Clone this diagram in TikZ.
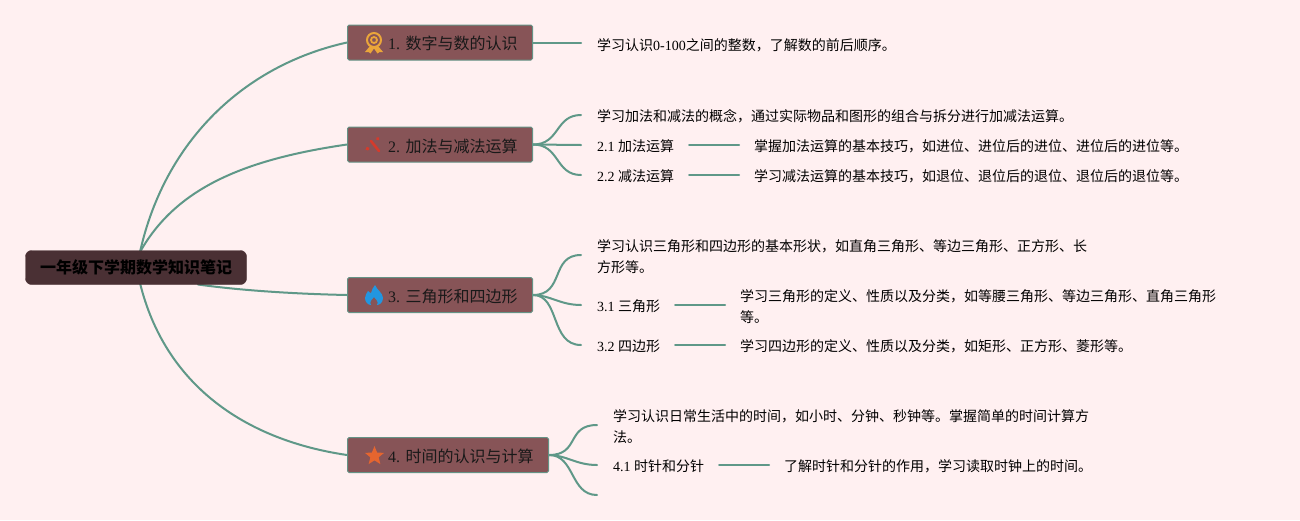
\documentclass[tikz,border=0pt]{standalone}
\usepackage{fontspec}
\setmainfont{Noto Sans CJK SC}
\newfontfamily\lat{Liberation Serif}
\newcommand{\LL}[1]{{\lat #1}}
\definecolor{bgc}{HTML}{FFF0F1}
\definecolor{edgec}{HTML}{5F9888}
\definecolor{rootc}{HTML}{4A3034}
\definecolor{mainc}{HTML}{875457}
\definecolor{medalc}{HTML}{EBA63A}
\definecolor{toolc}{HTML}{D43B2C}
\definecolor{flamec}{HTML}{2296E0}
\definecolor{starc}{HTML}{E5652F}
\usetikzlibrary{shapes.geometric}
\tikzset{
  x=1pt,y=-1pt,
  link/.style={draw=edgec,line width=2pt,line cap=round},
  rootbox/.style={draw=rootc,fill=rootc,rounded corners=6pt,minimum width=221pt,minimum height=34pt,inner sep=0pt,font=\fontsize{16}{20}\selectfont\bfseries,text=black},
  mainbox/.style={draw=edgec!80!gray,fill=mainc,rounded corners=1.5pt,line width=1pt,minimum height=35pt,inner sep=0pt,anchor=west},
  mainlabel/.style={font=\fontsize{16}{20}\selectfont,text=black!90,anchor=west,inner sep=0pt},
  body/.style={font=\fontsize{14}{21}\selectfont,text=black,anchor=west,inner sep=0pt,align=left},
}
\begin{document}
\begin{tikzpicture}
\useasboundingbox (0,0) rectangle (1300,520);
\fill[bgc] (0,0) rectangle (1300,520);
% root links are drawn first, so that the boxes cover their ends
\coordinate (r1) at (140,252);
\coordinate (r3) at (198,284.5);
\coordinate (r4) at (140,283);
\coordinate (p1) at (347,42.5);
\coordinate (p2) at (347,144.5);
\coordinate (p3) at (347,295);
\coordinate (p4) at (347,455);
\draw[link] (r1) .. controls (165,140) and (245,65) .. (p1);
\draw[link] (r1) .. controls (175,190) and (240,160) .. (p2);
\draw[link] (r3) .. controls (245,291) and (300,294) .. (p3);
\draw[link] (r4) .. controls (165,385) and (245,440) .. (p4);
% nodes
\node[rootbox] (root) at (136,267.5) {一年级下学期数学知识笔记};
\node[mainbox,minimum width=185pt] (m1) at (347,42.5) {};
\node[mainbox,minimum width=185pt] (m2) at (347,144.5) {};
\node[mainbox,minimum width=185pt] (m3) at (347,295) {};
\node[mainbox,minimum width=201pt] (m4) at (347,455) {};
\node[mainlabel] (l1) at (388,43) {\LL{1. }数字与数的认识};
\node[mainlabel] (l2) at (388,146) {\LL{2. }加法与减法运算};
\node[mainlabel] (l3) at (388,296) {\LL{3. }三角形和四边形};
\node[mainlabel] (l4) at (388,456) {\LL{4. }时间的认识与计算};
% texts
\node[body] (t1) at (597,45) {学习认识\LL{0-100}之间的整数，了解数的前后顺序。};
\node[body] (t2) at (597,116.5) {学习加法和减法的概念，通过实际物品和图形的组合与拆分进行加减法运算。};
\node[body] (t21) at (597,146.5) {\LL{2.1 }加法运算};
\node[body] (d21) at (754,146.5) {掌握加法运算的基本技巧，如进位、进位后的进位、进位后的进位等。};
\node[body] (t22) at (597,176.5) {\LL{2.2 }减法运算};
\node[body] (d22) at (754,176.5) {学习减法运算的基本技巧，如退位、退位后的退位、退位后的退位等。};
\node[body] (t3) at (597,256.5) {学习认识三角形和四边形的基本形状，如直角三角形、等边三角形、正方形、长\\方形等。};
\node[body] (t31) at (597,306.5) {\LL{3.1 }三角形};
\node[body] (d31) at (740,306.5) {学习三角形的定义、性质以及分类，如等腰三角形、等边三角形、直角三角形\\等。};
\node[body] (t32) at (597,346.5) {\LL{3.2 }四边形};
\node[body] (d32) at (740,346.5) {学习四边形的定义、性质以及分类，如矩形、正方形、菱形等。};
\node[body] (t4) at (613,426.5) {学习认识日常生活中的时间，如小时、分钟、秒钟等。掌握简单的时间计算方\\法。};
\node[body] (t41) at (613,466.5) {\LL{4.1 }时针和分针};
\node[body] (d41) at (784,466.5) {了解时针和分针的作用，学习读取时钟上的时间。};
% free ends
\coordinate (e1) at (581,42.5);
\coordinate (e2) at (581,115);
\coordinate (e21) at (581,145);
\coordinate (e22) at (581,175);
\coordinate (e3) at (581,255);
\coordinate (e31) at (581,305);
\coordinate (e32) at (581,345);
\coordinate (e4) at (597,425);
\coordinate (e41) at (597,465);
\coordinate (e42) at (597,495);
\coordinate (a21) at (689,145);\coordinate (b21) at (739,145);
\coordinate (a22) at (689,175);\coordinate (b22) at (739,175);
\coordinate (a31) at (675,305);\coordinate (b31) at (725,305);
\coordinate (a32) at (675,345);\coordinate (b32) at (725,345);
\coordinate (a41) at (719,465);\coordinate (b41) at (769,465);
% children links
\draw[link] (m1.east) -- (e1);
\draw[link] (m2.east) .. controls (560,144.5) and (555,115) .. (e2);
\draw[link] (m2.east) -- (e21);
\draw[link] (m2.east) .. controls (560,144.5) and (555,175) .. (e22);
\draw[link] (m3.east) .. controls (565,295) and (550,255) .. (e3);
\draw[link] (m3.east) .. controls (550,295) and (560,305) .. (e31);
\draw[link] (m3.east) .. controls (560,295) and (550,345) .. (e32);
\draw[link] (m4.east) .. controls (580,455) and (566,425) .. (e4);
\draw[link] (m4.east) .. controls (566,455) and (576,465) .. (e41);
\draw[link] (m4.east) .. controls (575,455) and (570,495) .. (e42);
\draw[link] (a21) -- (b21);
\draw[link] (a22) -- (b22);
\draw[link] (a31) -- (b31);
\draw[link] (a32) -- (b32);
\draw[link] (a41) -- (b41);
% icons
\begin{scope}[shift={(374,42)}]
  \fill[medalc] (-4,4) -- (-9,10) -- (-5.5,10) -- (-3.5,11.5) -- (0,6.5) -- (3.5,11.5) -- (5.5,10) -- (9,10) -- (4,4) -- cycle;
  \draw[medalc,line width=2pt,fill=mainc] (0,-2) circle (7);
  \draw[medalc,line width=1.8pt] (0,-2) circle (3);
\end{scope}
\begin{scope}[shift={(374,145)}]
  \draw[toolc,line width=2.6pt,line cap=round] (-3,-4) -- (5,6);
  \draw[toolc,line width=3.2pt,line cap=round] (-7,4) -- (-6,3.5);
  \draw[toolc,line width=3.2pt,line cap=round] (3.5,-6) -- (4,-6.5);
\end{scope}
\begin{scope}[shift={(374,295)}]
  \fill[flamec] (1,-10) .. controls (3,-5) and (9,-2) .. (9,3) .. controls (9,8) and (5,10) .. (3,10) .. controls (5,7) and (2,4) .. (0,2) .. controls (-2,4) and (-5,7) .. (-3,10) .. controls (-6,10) and (-9,7) .. (-9,3) .. controls (-9,0) and (-7,-2) .. (-6,-4) .. controls (-5,-3) and (-4,-2) .. (-3,-2) .. controls (-2,-5) and (-1,-8) .. (1,-10) -- cycle;
\end{scope}
\node[star,star points=5,star point ratio=2.3,fill=starc,minimum size=20pt,inner sep=0pt] (s4) at (374.5,456) {};
\end{tikzpicture}
\end{document}
